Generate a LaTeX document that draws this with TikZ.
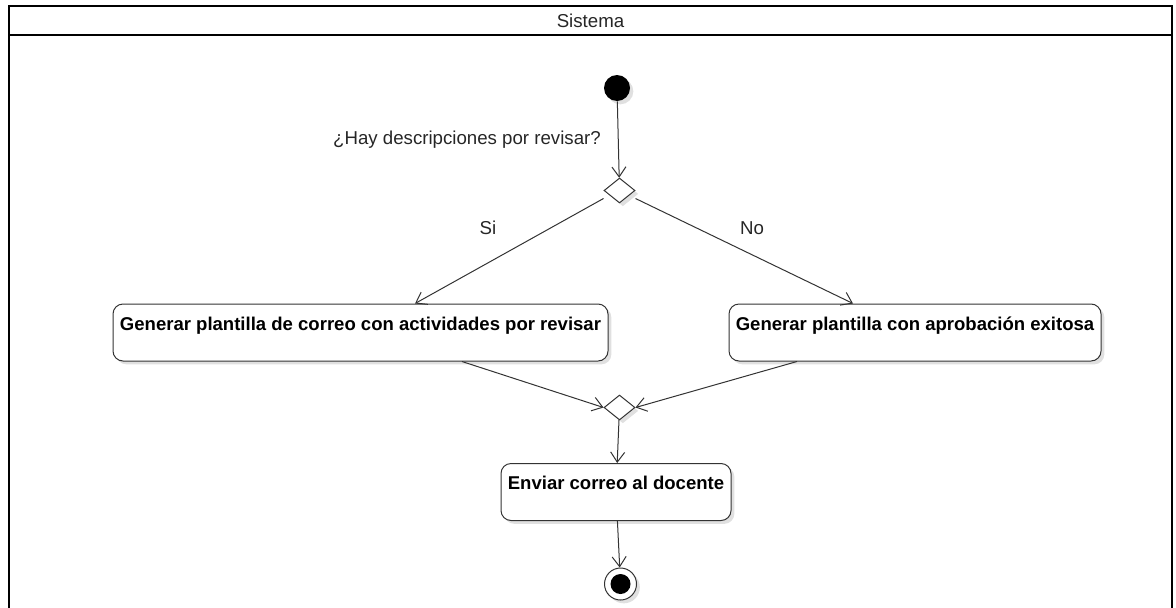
\documentclass[tikz,border=0pt]{standalone}
\usepackage{fontspec}
\setmainfont{Liberation Sans}
\usetikzlibrary{arrows.meta,shapes.geometric,shadows}

\tikzset{
  sombra/.style={drop shadow={shadow xshift=2.5pt,shadow yshift=-2.5pt,opacity=0.12,fill=black}},
  accion/.style={draw=black!80,line width=0.75pt,rounded corners=7.5pt,fill=white,inner sep=0pt,
    font=\bfseries\fontsize{13.9}{16}\selectfont,text height=19.5pt,text depth=23.25pt,
    minimum height=42.75pt,sombra},
  decision/.style={shape=diamond,draw=black!80,line width=0.75pt,fill=white,inner sep=0pt,
    minimum width=23.25pt,minimum height=18.75pt,sombra},
  inicio/.style={circle,fill=black,inner sep=0pt,minimum size=19.5pt,sombra},
  fin/.style={circle,draw=black!80,line width=0.75pt,fill=white,inner sep=0pt,minimum size=24pt,sombra,
    path picture={\fill[black] (path picture bounding box.center) circle (7.5pt);}},
  etiqueta/.style={font=\fontsize{14}{16}\selectfont,text=black!85},
  flecha/.style={->,draw=black!80,line width=0.75pt}
}

\begin{document}
\begin{tikzpicture}[x=0.75pt,y=-0.75pt,>={Straight Barb[length=7.5pt,width=10.5pt]}]
\useasboundingbox (0,0) rectangle (1176,607);
\clip (0,0) rectangle (1176,607);
% carril
\draw[line width=1.5pt] (9,6) rectangle (1172,640);
\draw[line width=1.5pt] (9,35) -- (1172,35);
\node[etiqueta] (sistema) at (590.5,20.5) {Sistema};

% nodos
\node[inicio] (ini) at (617,88) {};
\node[decision] (d1) at (619.5,190.5) {};
\node[accion,minimum width=371.25pt] (gen1) at (360.5,332.5) {Generar plantilla de correo con actividades por revisar};
\node[accion,minimum width=279pt] (gen2) at (915,332.5) {Generar plantilla con aprobación exitosa};
\node[decision] (d2) at (619.5,407.5) {};
\node[accion,minimum width=172.5pt] (env) at (616,492) {Enviar correo al docente};
\node[fin] (fin) at (620.5,584) {};

% etiquetas
\node[etiqueta] (preg) at (467,140) {¿Hay descripciones por revisar?};
\node[etiqueta] (si) at (488,228) {Si};
\node[etiqueta] (no) at (752,228) {No};

% flujos
\draw[flecha] (ini) -- (d1);
\draw[flecha] ([yshift=-6pt]d1.west) -- ([xshift=40.9pt]gen1.north);
\draw[flecha] ([yshift=-6pt]d1.east) -- ([xshift=-46.5pt]gen2.north);
\draw[flecha] ([xshift=76.1pt]gen1.south) -- (d2.west);
\draw[flecha] ([xshift=-88.5pt]gen2.south) -- (d2.east);
\draw[flecha] (d2) -- (env);
\draw[flecha] (env) -- (fin);
\end{tikzpicture}
\end{document}
